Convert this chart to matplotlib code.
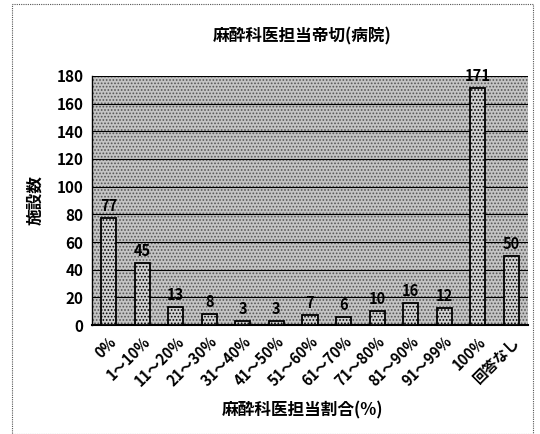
import numpy as np
import matplotlib.pyplot as plt
from matplotlib.patches import Rectangle

plt.rcParams['font.family'] = ['Noto Sans CJK JP', 'DejaVu Sans']
plt.rcParams['hatch.linewidth'] = 0.8

categories = ['0%', '1～10%', '11～20%', '21～30%', '31～40%', '41～50%', '51～60%',
              '61～70%', '71～80%', '81～90%', '91～99%', '100%', '回答なし']
counts = [77, 45, 13, 8, 3, 3, 7, 6, 10, 16, 12, 171, 50]
yticks = [0, 20, 40, 60, 80, 100, 120, 140, 160, 180]

fig = plt.figure(figsize=(5.4, 4.34), dpi=100)
# outer frame
fig.patches.append(Rectangle((0.022, 0.0), 0.965, 0.99, transform=fig.transFigure,
                             fill=False, edgecolor='#555555', linewidth=0.8, linestyle=(0, (1, 1))))

ax = fig.add_axes([0.170, 0.251, 0.808, 0.574])
ax.set_facecolor('#b4b4b4')
ax.add_patch(Rectangle((0, 0), 1, 1, transform=ax.transAxes, facecolor='#c4c4c4',
                       edgecolor='#555555', hatch='.....', linewidth=0, zorder=0))

x = np.arange(len(categories))
ax.set_axisbelow(True)
ax.yaxis.grid(True, color='black', linewidth=0.8)
bars = ax.bar(x, counts, width=0.45, facecolor='#d0d0d0', edgecolor='black',
              linewidth=1.3, hatch='.....', zorder=3)
for xi, v in zip(x, counts):
    ax.text(xi, v + 3, str(v), ha='center', va='bottom', fontsize=10.5, fontweight='bold', zorder=4)

ax.set_xlim(-0.5, len(categories) - 0.5)
ax.set_ylim(0, 180)
ax.set_yticks(yticks)
ax.set_yticklabels([str(t) for t in yticks], fontsize=11, fontweight='bold')
ax.set_xticks(x)
ax.set_xticklabels(categories, rotation=45, ha='right', rotation_mode='anchor',
                   fontsize=10.5, fontweight='bold')
ax.tick_params(axis='both', length=0, pad=6)
for s in ['top', 'right']:
    ax.spines[s].set_visible(False)
ax.spines['left'].set_linewidth(1.0)
ax.spines['bottom'].set_linewidth(1.5)

fig.text(0.56, 0.915, '麻酔科医担当帝切(病院)', ha='center', va='center', fontsize=12, fontweight='bold')
fig.text(0.065, 0.54, '施設数', ha='center', va='center', rotation=90, fontsize=12, fontweight='bold')
fig.text(0.56, 0.055, '麻酔科医担当割合(%)', ha='center', va='center', fontsize=12, fontweight='bold')

fig.savefig('out.png', dpi=100)
